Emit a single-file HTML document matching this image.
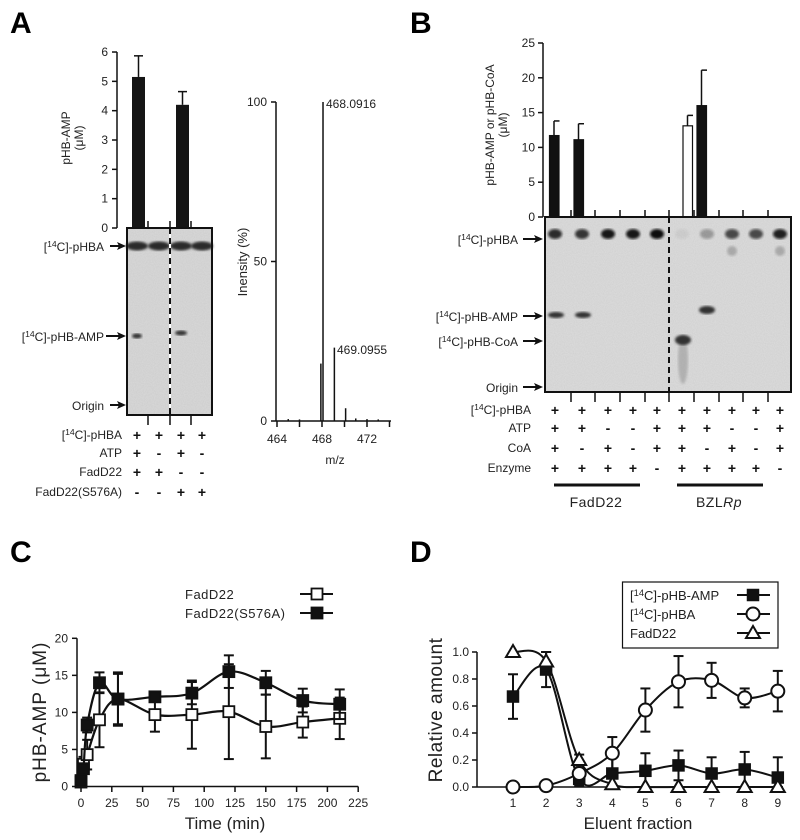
<!DOCTYPE html>
<html><head><meta charset="utf-8"><style>
html,body{margin:0;padding:0;background:#fff;}
svg{display:block;font-family:"Liberation Sans",Arial,sans-serif;}
</style></head><body>
<svg id="fig" width="800" height="840" viewBox="0 0 800 840" xmlns="http://www.w3.org/2000/svg">
<defs>
<filter id="grain" x="0" y="0" width="100%" height="100%"><feTurbulence type="fractalNoise" baseFrequency="0.9" numOctaves="1" seed="3"/><feColorMatrix type="matrix" values="0 0 0 0 0.78  0 0 0 0 0.78  0 0 0 0 0.78  0 0 0 -1.2 1.1"/></filter>
<filter id="blur1"><feGaussianBlur stdDeviation="1.2"/></filter>
</defs>
<!-- panel letters -->
<text x="10" y="33" font-size="30" font-weight="bold">A</text>
<text x="410" y="33" font-size="30" font-weight="bold">B</text>
<text x="10" y="562" font-size="30" font-weight="bold">C</text>
<text x="410" y="562" font-size="30" font-weight="bold">D</text>

<g id="gA"></g>
<g id="gM"></g>
<g id="gB"></g>
<g id="gC"></g>
<g id="gD"></g>
</svg>
<script>
// ---------- data ----------
const aBarValues = [5.15, 4.2];
const aBarErrors = [0.72, 0.45];
const aTicks = [0,1,2,3,4,5,6];
const msMz = [467.9, 468.09, 469.1, 470.1, 465, 466, 471, 472, 473];
const msIntensity = [18, 100, 23, 4, 0.6, 0.5, 0.8, 0.6, 0.5];
const msXTicks = [464,466,468,470,472,474];
const msXLabels = [464,468,472];
const msYTicks = [0,50,100];
const bBarValues = [11.7, 11.1, 13.1, 16.0];
const bBarErrors = [2.1, 2.3, 1.5, 5.1];
const bBarFill = ['#111','#111','#fff','#111'];
const bYTicks = [0,5,10,15,20,25];
const cTimes = [0,2,5,15,30,60,90,120,150,180,210];
const cWild = [0.6,3.0,4.3,9.0,11.8,9.7,9.7,10.1,8.1,8.7,9.2];
const cWildErr = [0.3,1.0,2.0,3.7,3.6,2.3,4.6,6.4,4.3,2.1,2.8];
const cMut = [0.8,2.4,8.3,14.0,11.8,12.1,12.6,15.5,14.0,11.6,11.1];
const cMutErr = [0.3,0.6,1.0,1.4,3.4,0.4,1.5,2.2,1.6,1.6,2.0];
const cXTicks = [0,25,50,75,100,125,150,175,200,225];
const cYTicks = [0,5,10,15,20];
const dFractions = [1,2,3,4,5,6,7,8,9];
const dAmp = [0.67,0.87,0.06,0.10,0.12,0.16,0.10,0.13,0.07];
const dAmpErr = [0.165,0.13,0.05,0.17,0.13,0.11,0.12,0.13,0.15];
const dPhba = [0.0,0.01,0.10,0.25,0.57,0.78,0.79,0.66,0.71];
const dPhbaErr = [0,0,0,0.12,0.16,0.19,0.13,0.07,0.15];
const dFad = [1.0,0.93,0.20,0.02,0,0,0,0,0];
const dFadErr = [0,0.07,0.04,0,0,0,0,0,0];
const dYTicks = [0,0.2,0.4,0.6,0.8,1.0];

const NS='http://www.w3.org/2000/svg';
function mk(parent, tag, attrs, txt){const e=document.createElementNS(NS,tag);for(const k in attrs)e.setAttribute(k,attrs[k]);if(txt!==undefined)e.textContent=txt;parent.appendChild(e);return e;}
function spline(pts){let d='M'+pts[0][0]+','+pts[0][1];for(let i=0;i<pts.length-1;i++){const p0=pts[i-1]||pts[i],p1=pts[i],p2=pts[i+1],p3=pts[i+2]||p2;const c1x=p1[0]+(p2[0]-p0[0])/6,c1y=p1[1]+(p2[1]-p0[1])/6,c2x=p2[0]-(p3[0]-p1[0])/6,c2y=p2[1]-(p3[1]-p1[1])/6;d+=` C${c1x},${c1y} ${c2x},${c2y} ${p2[0]},${p2[1]}`;}return d;}
function label14(parent,x,y,rest,anchor,size){const t=mk(parent,'text',{x:x,y:y,'font-size':size||12,'text-anchor':anchor||'end',fill:'#222'});mk(t,'tspan',{},'[');mk(t,'tspan',{'font-size':(size||12)*0.72,dy:-4},'14');mk(t,'tspan',{dy:4},rest);return t;}
function arrow(parent,x1,x2,y){mk(parent,'line',{x1:x1,y1:y,x2:x2-6,y2:y,stroke:'#111','stroke-width':2});mk(parent,'path',{d:`M${x2},${y} L${x2-9},${y-4} L${x2-7},${y} L${x2-9},${y+4}Z`,fill:'#111'});}

// ---------- Panel A ----------
const gA=document.getElementById('gA');
const yA=v=>228-v*29.33;
mk(gA,'line',{x1:117,y1:yA(6),x2:117,y2:228,stroke:'#111','stroke-width':1.5});
aTicks.forEach(t=>{mk(gA,'line',{x1:112,y1:yA(t),x2:117,y2:yA(t),stroke:'#111','stroke-width':1.5});const tl=mk(gA,'text',{x:108,y:yA(t)+4,'font-size':12,'text-anchor':'end',fill:'#222'},String(t));});
const aBarX=[132,176];
aBarValues.forEach((v,i)=>{
 const el=mk(gA,'line',{x1:aBarX[i]+6.5,y1:yA(v),x2:aBarX[i]+6.5,y2:yA(v+aBarErrors[i]),stroke:'#111','stroke-width':1.5});
 mk(gA,'line',{x1:aBarX[i]+2,y1:yA(v+aBarErrors[i]),x2:aBarX[i]+11,y2:yA(v+aBarErrors[i]),stroke:'#111','stroke-width':1.5});
 const b=mk(gA,'rect',{x:aBarX[i],y:yA(v),width:13,height:228-yA(v),fill:'#151515'});
 
 
});
const yl=mk(gA,'text',{transform:'translate(70,138) rotate(-90)','font-size':12,'text-anchor':'middle',fill:'#222'},'pHB-AMP');
const yl2=mk(gA,'text',{transform:'translate(83,138) rotate(-90)','font-size':12,'text-anchor':'middle',fill:'#222'},'(μM)');


// gel A
const gelA=mk(gA,'g',{});


mk(gelA,'rect',{x:127,y:228,width:85,height:187,fill:'#cdcdcd'});
mk(gelA,'rect',{x:127,y:228,width:85,height:187,fill:'#fff',filter:'url(#grain)',opacity:0.5});
[137,159,181,202].forEach(x=>mk(gelA,'ellipse',{cx:x,cy:246,rx:11,ry:4.5,fill:'#2a2a2a',filter:'url(#blur1)'}));
mk(gelA,'ellipse',{cx:137,cy:336,rx:5,ry:2.5,fill:'#333',filter:'url(#blur1)'});
mk(gelA,'ellipse',{cx:181,cy:333,rx:6,ry:2.5,fill:'#333',filter:'url(#blur1)'});
mk(gelA,'line',{x1:170,y1:228,x2:170,y2:415,stroke:'#fff','stroke-width':2});
mk(gelA,'line',{x1:170,y1:228,x2:170,y2:415,stroke:'#111','stroke-width':2,'stroke-dasharray':'6,4'});
mk(gelA,'rect',{x:127,y:228,width:85,height:187,fill:'none',stroke:'#111','stroke-width':2});
[148,170,191].forEach(x=>{mk(gA,'line',{x1:x,y1:221,x2:x,y2:228,stroke:'#111','stroke-width':1.5});mk(gA,'line',{x1:x,y1:415,x2:x,y2:425,stroke:'#111','stroke-width':1.5});});
label14(gA,104,251,'C]-pHBA');arrow(gA,110,126,246);
label14(gA,104,341,'C]-pHB-AMP');arrow(gA,106,126,336);
mk(gA,'text',{x:104,y:410,'font-size':12,'text-anchor':'end',fill:'#222'},'Origin');arrow(gA,110,126,405);
const aRowsY=[435,453,472,492];
const aRowSigns=[['+','+','+','+'],['+','-','+','-'],['+','+','-','-'],['-','-','+','+']];
label14(gA,122,aRowsY[0]+4,'C]-pHBA');
mk(gA,'text',{x:122,y:aRowsY[1]+4,'font-size':12,'text-anchor':'end',fill:'#222'},'ATP');
mk(gA,'text',{x:122,y:aRowsY[2]+4,'font-size':12,'text-anchor':'end',fill:'#222'},'FadD22');
mk(gA,'text',{x:122,y:aRowsY[3]+4,'font-size':12,'text-anchor':'end',fill:'#222'},'FadD22(S576A)');
aRowSigns.forEach((row,r)=>row.forEach((s,i)=>mk(gA,'text',{x:[137,159,181,202][i],y:aRowsY[r]+5,'font-size':14,'font-weight':'bold','text-anchor':'middle',fill:'#111'},s)));

// ---------- Mass spectrum ----------
const gM=document.getElementById('gM');
const xM=m=>277+(m-464)*11.25, yM=p=>421-p*3.19;
mk(gM,'line',{x1:276,y1:yM(100),x2:276,y2:421,stroke:'#111','stroke-width':1.5});
mk(gM,'line',{x1:276,y1:421,x2:391,y2:421,stroke:'#111','stroke-width':1.5});
msYTicks.forEach(t=>{mk(gM,'line',{x1:271,y1:yM(t),x2:276,y2:yM(t),stroke:'#111','stroke-width':1.5});mk(gM,'text',{x:267,y:yM(t)+4,'font-size':12,'text-anchor':'end',fill:'#222'},String(t));});
msXTicks.forEach(t=>mk(gM,'line',{x1:xM(t),y1:421,x2:xM(t),y2:427,stroke:'#111','stroke-width':1.5}));
msXLabels.forEach(t=>mk(gM,'text',{x:xM(t),y:443,'font-size':12,'text-anchor':'middle',fill:'#222'},String(t)));
msMz.forEach((m,i)=>{const pk=mk(gM,'line',{x1:xM(m),y1:421,x2:xM(m),y2:yM(msIntensity[i]),stroke:'#111','stroke-width':1.5});
 
 });
mk(gM,'text',{x:326,y:108,'font-size':12,fill:'#222'},'468.0916');
mk(gM,'text',{x:337,y:354,'font-size':12,fill:'#222'},'469.0955');
const my=mk(gM,'text',{transform:'translate(247,262) rotate(-90)','font-size':13,'text-anchor':'middle',fill:'#222'},'Inensity (%)');


mk(gM,'text',{x:335,y:464,'font-size':12,'text-anchor':'middle',fill:'#222'},'m/z');

// ---------- Panel B ----------
const gB=document.getElementById('gB');
const yB=v=>217-v*6.96;
mk(gB,'line',{x1:543,y1:yB(25),x2:543,y2:217,stroke:'#111','stroke-width':1.5});
bYTicks.forEach(t=>{mk(gB,'line',{x1:538,y1:yB(t),x2:543,y2:yB(t),stroke:'#111','stroke-width':1.5});mk(gB,'text',{x:535,y:yB(t)+4,'font-size':12,'text-anchor':'end',fill:'#222'},String(t));});
const bBarX=[549.5,574,683,697];
bBarValues.forEach((v,i)=>{
 mk(gB,'line',{x1:bBarX[i]+4.5,y1:yB(v),x2:bBarX[i]+4.5,y2:yB(v+bBarErrors[i]),stroke:'#111','stroke-width':1.5});
 mk(gB,'line',{x1:bBarX[i]+4.5,y1:yB(v+bBarErrors[i]),x2:bBarX[i]+10,y2:yB(v+bBarErrors[i]),stroke:'#111','stroke-width':1.5});
 const b=mk(gB,'rect',{x:bBarX[i],y:yB(v),width:9.5,height:217-yB(v),fill:bBarFill[i],stroke:'#111','stroke-width':1.2});
 
 
});
mk(gB,'text',{transform:'translate(494,125) rotate(-90)','font-size':12,'text-anchor':'middle',fill:'#222'},'pHB-AMP or pHB-CoA');
mk(gB,'text',{transform:'translate(507,125) rotate(-90)','font-size':12,'text-anchor':'middle',fill:'#222'},'(μM)');
const gelB=mk(gB,'g',{});


mk(gelB,'rect',{x:545,y:217,width:246,height:175,fill:'#d0d0d0'});
mk(gelB,'rect',{x:545,y:217,width:246,height:175,fill:'#fff',filter:'url(#grain)',opacity:0.6});
const lanes=[555,582,608,633,657,682,707,732,756,780];
const spotOp=[0.85,0.8,0.95,0.95,1,0.05,0.3,0.7,0.7,0.9];
lanes.forEach((x,i)=>mk(gelB,'ellipse',{cx:x,cy:234,rx:7,ry:5,fill:'#111',opacity:spotOp[i],filter:'url(#blur1)'}));
[732,780].forEach(x=>mk(gelB,'ellipse',{cx:x,cy:251,rx:5,ry:5,fill:'#666',opacity:0.4,filter:'url(#blur1)'}));
mk(gelB,'ellipse',{cx:556,cy:315,rx:8,ry:3,fill:'#333',filter:'url(#blur1)'});
mk(gelB,'ellipse',{cx:583,cy:315,rx:8,ry:3,fill:'#333',filter:'url(#blur1)'});
mk(gelB,'ellipse',{cx:707,cy:310,rx:8,ry:4,fill:'#333',filter:'url(#blur1)'});
mk(gelB,'ellipse',{cx:683,cy:360,rx:5,ry:24,fill:'#999',opacity:0.6,filter:'url(#blur1)'});
mk(gelB,'ellipse',{cx:683,cy:340,rx:8,ry:5,fill:'#333',filter:'url(#blur1)'});
mk(gelB,'line',{x1:669,y1:217,x2:669,y2:392,stroke:'#111','stroke-width':2,'stroke-dasharray':'6,4'});
mk(gelB,'rect',{x:545,y:217,width:246,height:175,fill:'none',stroke:'#111','stroke-width':2});
[571,595,620,645,669,694,719,743,768].forEach(x=>{mk(gB,'line',{x1:x,y1:210,x2:x,y2:217,stroke:'#111','stroke-width':1.5});mk(gB,'line',{x1:x,y1:392,x2:x,y2:402,stroke:'#111','stroke-width':1.5});});
label14(gB,518,244,'C]-pHBA');arrow(gB,523,543,239);
label14(gB,518,321,'C]-pHB-AMP');arrow(gB,523,543,316);
label14(gB,518,346,'C]-pHB-CoA');arrow(gB,523,543,341);
mk(gB,'text',{x:518,y:392,'font-size':12,'text-anchor':'end',fill:'#222'},'Origin');arrow(gB,523,543,387);
const bRowsY=[410,428,448,468];
const bRowSigns=[['+','+','+','+','+','+','+','+','+','+'],['+','+','-','-','+','+','+','-','-','+'],['+','-','+','-','+','+','-','+','-','+'],['+','+','+','+','-','+','+','+','+','-']];
label14(gB,531,bRowsY[0]+4,'C]-pHBA');
mk(gB,'text',{x:531,y:bRowsY[1]+4,'font-size':12,'text-anchor':'end',fill:'#222'},'ATP');
mk(gB,'text',{x:531,y:bRowsY[2]+4,'font-size':12,'text-anchor':'end',fill:'#222'},'CoA');
mk(gB,'text',{x:531,y:bRowsY[3]+4,'font-size':12,'text-anchor':'end',fill:'#222'},'Enzyme');
bRowSigns.forEach((row,r)=>row.forEach((s,i)=>mk(gB,'text',{x:lanes[i],y:bRowsY[r]+5,'font-size':14,'font-weight':'bold','text-anchor':'middle',fill:'#111'},s)));
mk(gB,'line',{x1:554,y1:485,x2:640,y2:485,stroke:'#111','stroke-width':3});
mk(gB,'line',{x1:677,y1:485,x2:763,y2:485,stroke:'#111','stroke-width':3});
mk(gB,'text',{x:596,y:507,'font-size':14,'text-anchor':'middle',fill:'#222','letter-spacing':'0.5'},'FadD22');
const bz=mk(gB,'text',{x:719,y:507,'font-size':14,'text-anchor':'middle',fill:'#222','letter-spacing':'0.5'},'BZL');mk(bz,'tspan',{'font-style':'italic'},'Rp');

// ---------- Panel C ----------
const gC=document.getElementById('gC');
const xC=t=>81+t*1.232, yC=v=>786.5-v*7.41;
mk(gC,'line',{x1:77,y1:yC(20),x2:77,y2:786.5,stroke:'#111','stroke-width':1.5});
mk(gC,'line',{x1:77,y1:786.5,x2:xC(225),y2:786.5,stroke:'#111','stroke-width':1.5});
cYTicks.forEach(t=>{mk(gC,'line',{x1:72,y1:yC(t),x2:77,y2:yC(t),stroke:'#111','stroke-width':1.5});mk(gC,'text',{x:68,y:yC(t)+4,'font-size':12,'text-anchor':'end',fill:'#222'},String(t));});
cXTicks.forEach(t=>{mk(gC,'line',{x1:xC(t),y1:786.5,x2:xC(t),y2:792,stroke:'#111','stroke-width':1.5});mk(gC,'text',{x:xC(t),y:807,'font-size':12,'text-anchor':'middle',fill:'#222'},String(t));});
mk(gC,'text',{x:225,y:829,'font-size':17,'text-anchor':'middle',fill:'#222'},'Time (min)');
mk(gC,'text',{transform:'translate(46,712) rotate(-90)','font-size':19,'text-anchor':'middle',fill:'#222','letter-spacing':'1'},'pHB-AMP (μM)');
function errbar(g,x,y1,y2){mk(g,'line',{x1:x,y1:y1,x2:x,y2:y2,stroke:'#111','stroke-width':2});mk(g,'line',{x1:x-5,y1:y1,x2:x+5,y2:y1,stroke:'#111','stroke-width':2});mk(g,'line',{x1:x-5,y1:y2,x2:x+5,y2:y2,stroke:'#111','stroke-width':2});}
[[cWild,cWildErr,'#fff','c-series-fadd22'],[cMut,cMutErr,'#111','c-series-s576a']].forEach(([vals,errs,fill,name])=>{
 const g=mk(gC,'g',{});
 
 
 cTimes.forEach((t,i)=>errbar(g,xC(t),yC(vals[i]+errs[i]),yC(Math.max(0,vals[i]-errs[i]))));
 mk(g,'path',{d:spline(cTimes.map((t,i)=>[xC(t),yC(vals[i])])),fill:'none',stroke:'#111','stroke-width':2.2});
 cTimes.forEach((t,i)=>{const m=mk(g,'rect',{x:xC(t)-5.5,y:yC(vals[i])-5.5,width:11,height:11,fill:fill,stroke:'#111','stroke-width':1.8});
  
  });
});
mk(gC,'text',{x:185,y:599,'font-size':13,fill:'#222','letter-spacing':'0.5'},'FadD22');
mk(gC,'text',{x:185,y:618,'font-size':13,fill:'#222','letter-spacing':'0.5'},'FadD22(S576A)');
mk(gC,'line',{x1:300,y1:594,x2:333,y2:594,stroke:'#111','stroke-width':2});
mk(gC,'rect',{x:311.5,y:588.5,width:11,height:11,fill:'#fff',stroke:'#111','stroke-width':1.8});
mk(gC,'line',{x1:300,y1:613,x2:333,y2:613,stroke:'#111','stroke-width':2});
mk(gC,'rect',{x:311.5,y:607.5,width:11,height:11,fill:'#111',stroke:'#111','stroke-width':1.8});

// ---------- Panel D ----------
const gD=document.getElementById('gD');
const xD=f=>513+(f-1)*33.1, yD=v=>787-v*135;
mk(gD,'line',{x1:477,y1:yD(1),x2:477,y2:787,stroke:'#111','stroke-width':1.5});
mk(gD,'line',{x1:477,y1:787,x2:783,y2:787,stroke:'#111','stroke-width':1.5});
dYTicks.forEach(t=>{mk(gD,'line',{x1:472,y1:yD(t),x2:477,y2:yD(t),stroke:'#111','stroke-width':1.5});mk(gD,'text',{x:469,y:yD(t)+4,'font-size':12,'text-anchor':'end',fill:'#222'},t.toFixed(1));});
dFractions.forEach(f=>mk(gD,'text',{x:xD(f),y:807,'font-size':12,'text-anchor':'middle',fill:'#222'},String(f)));
mk(gD,'text',{x:638,y:829,'font-size':17,'text-anchor':'middle',fill:'#222'},'Eluent fraction');
mk(gD,'text',{transform:'translate(442,710) rotate(-90)','font-size':19,'text-anchor':'middle',fill:'#222','letter-spacing':'0.5'},'Relative amount');
function marker(g,kind,x,y){
 if(kind==='sq') return mk(g,'rect',{x:x-5.5,y:y-5.5,width:11,height:11,fill:'#111',stroke:'#111','stroke-width':1.5});
 if(kind==='ci') return mk(g,'circle',{cx:x,cy:y,r:6.5,fill:'#fff',stroke:'#111','stroke-width':2});
 return mk(g,'path',{d:`M${x},${y-7} L${x+7},${y+5} L${x-7},${y+5}Z`,fill:'#fff',stroke:'#111','stroke-width':2});
}
[[dAmp,dAmpErr,'sq','d-series-amp'],[dPhba,dPhbaErr,'ci','d-series-phba'],[dFad,dFadErr,'tr','d-series-fadd22']].forEach(([vals,errs,kind,name])=>{
 const g=mk(gD,'g',{});
 
 
 dFractions.forEach((f,i)=>{if(errs[i]>0)errbar(g,xD(f),yD(vals[i]+errs[i]),yD(Math.max(0,vals[i]-errs[i])));});
 mk(g,'path',{d:spline(dFractions.map((f,i)=>[xD(f),yD(vals[i])])),fill:'none',stroke:'#111','stroke-width':2});
 dFractions.forEach((f,i)=>{const m=marker(g,kind,xD(f),yD(vals[i]));
  
  });
});
const lg=mk(gD,'g',{});


mk(lg,'rect',{x:622.5,y:582,width:155.5,height:66,fill:'#fff',stroke:'#111','stroke-width':1.2});
label14(lg,630,600,'C]-pHB-AMP','start',13);
label14(lg,630,619,'C]-pHBA','start',13);
mk(lg,'text',{x:630,y:638,'font-size':13,fill:'#222'},'FadD22');
[[595,'sq'],[614,'ci'],[633,'tr']].forEach(([y,k])=>{mk(lg,'line',{x1:737,y1:y,x2:770,y2:y,stroke:'#111','stroke-width':2});marker(lg,k,753,y);});
</script>
</body></html>
